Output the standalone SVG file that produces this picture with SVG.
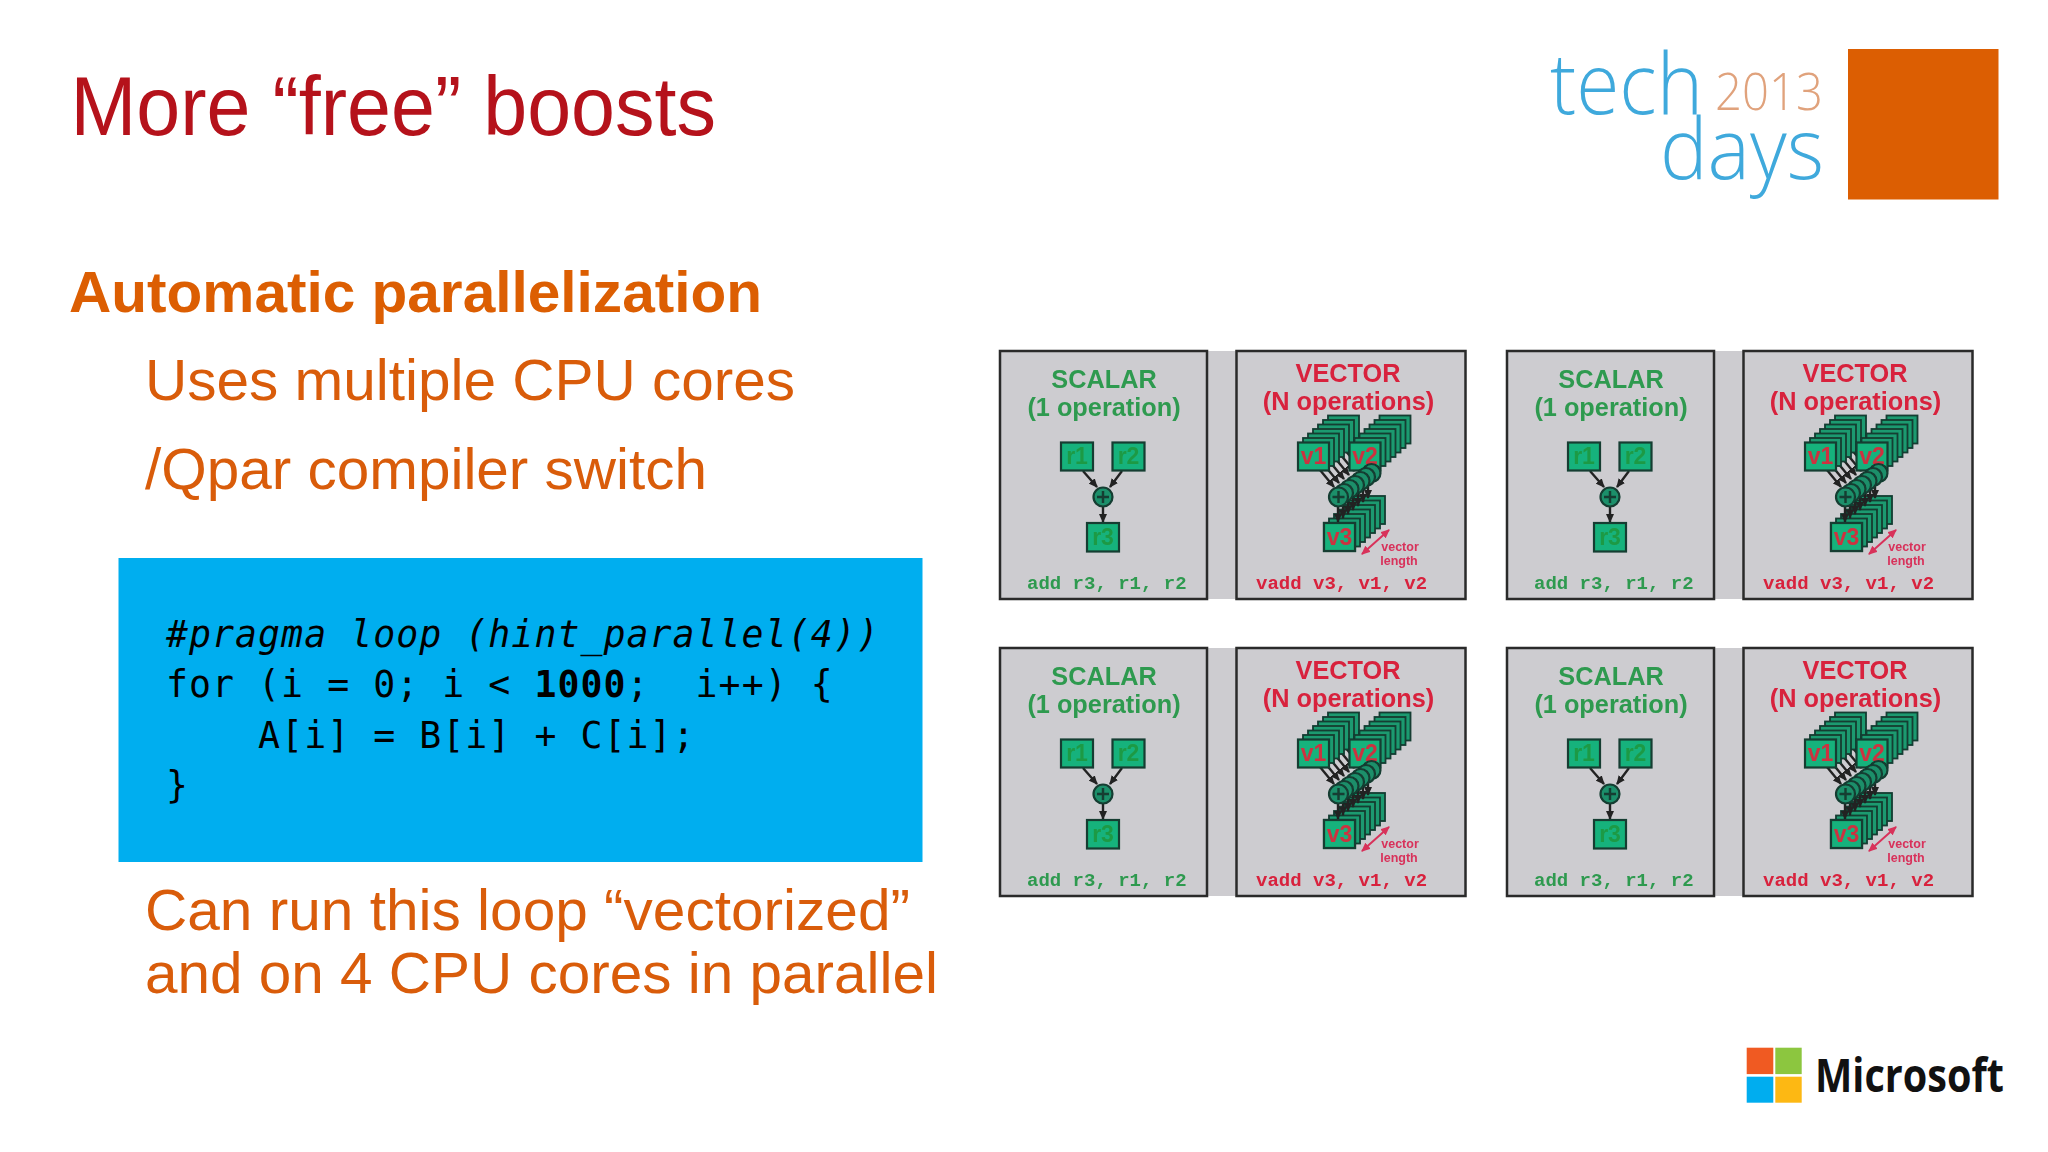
<svg xmlns="http://www.w3.org/2000/svg" xmlns:xlink="http://www.w3.org/1999/xlink" width="2048" height="1152" viewBox="0 0 2048 1152">
<style>
.title{font-family:"Liberation Sans",Arial,sans-serif;font-size:84px;fill:#b5121b}
.head{font-family:"Liberation Sans",Arial,sans-serif;font-weight:700;font-size:58px;fill:#dc5e02}
.body{font-family:"Liberation Sans",Arial,sans-serif;font-size:57.5px;fill:#d95c0a}
.code{font-family:"DejaVu Sans Mono","Liberation Mono",monospace;font-size:36.5px;letter-spacing:1.05px;fill:#000;white-space:pre}
.lt{font-family:"Open Sans","Liberation Sans",sans-serif;font-weight:300;font-size:84px;fill:#3fa9dc}
.yr{font-family:"Open Sans","Liberation Sans",sans-serif;font-weight:300;font-size:52px;fill:#e0a27c}
.ms{font-family:"Open Sans","Liberation Sans",sans-serif;font-weight:700;font-size:46px;fill:#111}
.bg{fill:#cdccd0;stroke:#2a2a2a;stroke-width:2.5}
.strip{fill:#cdccd0}
.t{font-family:"Liberation Sans",Arial,sans-serif;font-weight:700;font-size:25.3px;text-anchor:middle}
.g{fill:#2f9a4f}.r{fill:#d8203c}
.m{font-family:"Liberation Mono","Courier New",monospace;font-weight:700;font-size:19px}
.vl{font-family:"Liberation Sans",Arial,sans-serif;font-weight:700;font-size:12.5px;text-anchor:middle;fill:#d8305a}
.reg{fill:#19b27b;stroke:#123c30;stroke-width:2.2}
.back{fill:#1a9a70;stroke:#123c30;stroke-width:1.8}
.rn{font-family:"Liberation Sans",Arial,sans-serif;font-weight:700;font-size:23px;text-anchor:middle}
.rg{fill:#1f9a45}.rr{fill:#cc3340}
.op{fill:#1c8f6a;stroke:#123c30;stroke-width:2.2}
.pl{stroke:#123c30;stroke-width:2.4;fill:none}
.ar{stroke:#222;stroke-width:2.4;fill:none;marker-end:url(#ah)}
.arr{stroke:#d8305a;stroke-width:2;fill:none;marker-end:url(#ahr);marker-start:url(#ahrs)}
</style>
<defs>
<filter id="soft" x="0" y="0" width="2048" height="1152" filterUnits="userSpaceOnUse"><feGaussianBlur stdDeviation="0.55"/></filter>
<marker id="ah" markerUnits="userSpaceOnUse" markerWidth="9" markerHeight="8" refX="8" refY="4" orient="auto"><path d="M0 0L9 4L0 8z" fill="#222"/></marker>
<marker id="ahr" markerUnits="userSpaceOnUse" markerWidth="9" markerHeight="8" refX="8" refY="4" orient="auto"><path d="M0 0L9 4L0 8z" fill="#d8305a"/></marker>
<marker id="ahrs" markerUnits="userSpaceOnUse" markerWidth="9" markerHeight="8" refX="1" refY="4" orient="auto"><path d="M9 0L0 4L9 8z" fill="#d8305a"/></marker>
<rect id="card" width="31" height="28"/>
<g id="stack">
<use href="#card" class="back" x="30" y="-27"/>
<use href="#card" class="back" x="25" y="-22.5"/>
<use href="#card" class="back" x="20" y="-18"/>
<use href="#card" class="back" x="15" y="-13.5"/>
<use href="#card" class="back" x="10" y="-9"/>
<use href="#card" class="back" x="5" y="-4.5"/>
<use href="#card" class="reg"/>
</g>
<g id="opstack">
<circle class="op" cx="33" cy="-24" r="9"/><circle class="op" cx="27.5" cy="-20" r="9"/><circle class="op" cx="22" cy="-16" r="9"/><circle class="op" cx="16.5" cy="-12" r="9"/><circle class="op" cx="11" cy="-8" r="9"/><circle class="op" cx="5.5" cy="-4" r="9"/><circle class="op" r="9.5"/><path class="pl" d="M-6 0H6M0-6V6"/>
</g>
<g id="sarrows">
<path class="ar" d="M1083 471L1097 487"/><path class="ar" d="M1122 471L1110 487"/><path class="ar" d="M1103 506V522"/>
</g>
<g id="varrows">
<path class="ar" d="M1350 446L1364 463"/><path class="ar" d="M1345 450L1359 467"/><path class="ar" d="M1340 454L1354 471"/><path class="ar" d="M1335 458L1349 475"/><path class="ar" d="M1330 462L1344 479"/><path class="ar" d="M1325 466L1339 483"/><path class="ar" d="M1320 470L1334 487"/>
<path class="ar" d="M1395 446L1376 463"/><path class="ar" d="M1390 450L1371 467"/><path class="ar" d="M1385 454L1366 471"/><path class="ar" d="M1380 458L1361 475"/><path class="ar" d="M1375 462L1356 479"/><path class="ar" d="M1370 466L1351 483"/><path class="ar" d="M1365 470L1346 487"/>
<path class="ar" d="M1368 482V498"/><path class="ar" d="M1363 486V502"/><path class="ar" d="M1358 490V506"/><path class="ar" d="M1353 494V510"/><path class="ar" d="M1348 498V514"/><path class="ar" d="M1343 502V518"/><path class="ar" d="M1338 506V522"/>
<path class="arr" d="M1389 530L1362 554"/>
</g>
</defs>
<rect width="2048" height="1152" fill="#fff"/>
<g id="slide-title"><text class="title" x="70.5" y="135" textLength="645.5" lengthAdjust="spacingAndGlyphs">More “free” boosts</text></g>
<g id="bullets">
<text class="head" x="69" y="311.5" textLength="693" lengthAdjust="spacingAndGlyphs">Automatic parallelization</text>
<text class="body" x="145" y="399.5" textLength="650" lengthAdjust="spacingAndGlyphs">Uses multiple CPU cores</text>
<text class="body" x="145" y="488.5" textLength="562" lengthAdjust="spacingAndGlyphs">/Qpar compiler switch</text>
<text class="body" x="145" y="929.5" textLength="765" lengthAdjust="spacingAndGlyphs">Can run this loop “vectorized”</text>
<text class="body" x="145" y="993" textLength="793" lengthAdjust="spacingAndGlyphs">and on 4 CPU cores in parallel</text>
</g>
<g id="code-box">
<rect x="118.5" y="558" width="804" height="304" fill="#00aeef"/>
<text class="code" x="166" y="647" font-style="italic">#pragma loop (hint_parallel(4))</text>
<text class="code" x="166" y="697">for (i = 0; i &lt; <tspan font-weight="700">1000</tspan>;  i++) {</text>
<text class="code" x="166" y="748">    A[i] = B[i] + C[i];</text>
<text class="code" x="166" y="798">}</text>
</g>
<g id="techdays-logo">
<text class="lt" x="1550" y="114" textLength="153" lengthAdjust="spacingAndGlyphs">tech</text>
<text class="yr" x="1715" y="109.5" textLength="108" lengthAdjust="spacingAndGlyphs">2013</text>
<text class="lt" x="1660" y="179" textLength="164" lengthAdjust="spacingAndGlyphs">days</text>
<rect x="1848" y="49" width="150.5" height="150.5" fill="#dc5e02"/>
</g>
<g id="microsoft-logo">
<rect x="1746.7" y="1047.7" width="26.6" height="26.4" fill="#f05a22"/>
<rect x="1775.3" y="1047.7" width="26.4" height="26.4" fill="#8cc63f"/>
<rect x="1746.7" y="1076.7" width="26.6" height="26" fill="#00adef"/>
<rect x="1775.3" y="1076.7" width="26.4" height="26" fill="#fdb813"/>
<text class="ms" x="1815" y="1091.7" textLength="189" lengthAdjust="spacingAndGlyphs">Microsoft</text>
</g>
<g id="simd-panels" filter="url(#soft)">
<g id="panel-1">
<rect class="strip" x="1207" y="351" width="29" height="248"/><rect class="bg" x="1000" y="351" width="207" height="248"/><rect class="bg" x="1236.5" y="351" width="229" height="248"/>
<text class="t g" x="1104" y="388">SCALAR</text><text class="t g" x="1104" y="416">(1 operation)</text><text class="m g" x="1027" y="589">add r3, r1, r2</text>
<text class="t r" x="1348" y="382">VECTOR</text><text class="t r" x="1348.5" y="410">(N operations)</text><text class="m r" x="1256" y="589">vadd v3, v1, v2</text>
<text class="vl" x="1400" y="551">vector</text><text class="vl" x="1399" y="565">length</text>
</g>
<g id="panel-2" transform="translate(507 0)">
<rect class="strip" x="1207" y="351" width="29" height="248"/><rect class="bg" x="1000" y="351" width="207" height="248"/><rect class="bg" x="1236.5" y="351" width="229" height="248"/>
<text class="t g" x="1104" y="388">SCALAR</text><text class="t g" x="1104" y="416">(1 operation)</text><text class="m g" x="1027" y="589">add r3, r1, r2</text>
<text class="t r" x="1348" y="382">VECTOR</text><text class="t r" x="1348.5" y="410">(N operations)</text><text class="m r" x="1256" y="589">vadd v3, v1, v2</text>
<text class="vl" x="1400" y="551">vector</text><text class="vl" x="1399" y="565">length</text>
</g>
<g id="panel-3" transform="translate(0 297)">
<rect class="strip" x="1207" y="351" width="29" height="248"/><rect class="bg" x="1000" y="351" width="207" height="248"/><rect class="bg" x="1236.5" y="351" width="229" height="248"/>
<text class="t g" x="1104" y="388">SCALAR</text><text class="t g" x="1104" y="416">(1 operation)</text><text class="m g" x="1027" y="589">add r3, r1, r2</text>
<text class="t r" x="1348" y="382">VECTOR</text><text class="t r" x="1348.5" y="410">(N operations)</text><text class="m r" x="1256" y="589">vadd v3, v1, v2</text>
<text class="vl" x="1400" y="551">vector</text><text class="vl" x="1399" y="565">length</text>
</g>
<g id="panel-4" transform="translate(507 297)">
<rect class="strip" x="1207" y="351" width="29" height="248"/><rect class="bg" x="1000" y="351" width="207" height="248"/><rect class="bg" x="1236.5" y="351" width="229" height="248"/>
<text class="t g" x="1104" y="388">SCALAR</text><text class="t g" x="1104" y="416">(1 operation)</text><text class="m g" x="1027" y="589">add r3, r1, r2</text>
<text class="t r" x="1348" y="382">VECTOR</text><text class="t r" x="1348.5" y="410">(N operations)</text><text class="m r" x="1256" y="589">vadd v3, v1, v2</text>
<text class="vl" x="1400" y="551">vector</text><text class="vl" x="1399" y="565">length</text>
</g>
<g id="p1-v3-stack"><use href="#stack" x="1324" y="523"/></g>
<g id="p2-v3-stack" transform="translate(507 0)"><use href="#stack" x="1324" y="523"/></g>
<g id="p3-v3-stack" transform="translate(0 297)"><use href="#stack" x="1324" y="523"/></g>
<g id="p4-v3-stack" transform="translate(507 297)"><use href="#stack" x="1324" y="523"/></g>
<g id="connectors">
<use href="#sarrows"/><use href="#varrows"/>
<use href="#sarrows" x="507"/><use href="#varrows" x="507"/>
<use href="#sarrows" y="297"/><use href="#varrows" y="297"/>
<use href="#sarrows" x="507" y="297"/><use href="#varrows" x="507" y="297"/>
</g>
<g id="p1-nodes">
<g id="p1-r1"><rect class="reg" x="1061" y="442.5" width="32" height="28"/><text class="rn rg" x="1077" y="464">r1</text></g>
<g id="p1-r2"><rect class="reg" x="1112.5" y="442.5" width="32" height="28"/><text class="rn rg" x="1128.5" y="464">r2</text></g>
<g id="p1-add"><circle class="op" cx="1103" cy="497" r="9.5"/><path class="pl" d="M1097 497H1109M1103 491V503"/></g>
<g id="p1-r3"><rect class="reg" x="1087" y="523" width="32" height="28.5"/><text class="rn rg" x="1103" y="545">r3</text></g>
<g id="p1-v1"><use href="#stack" x="1298" y="442.5"/><text class="rn rr" x="1313.5" y="464">v1</text></g>
<g id="p1-v2"><use href="#stack" x="1349.5" y="442.5"/><text class="rn rr" x="1365" y="464">v2</text></g>
<g id="p1-vadd"><use href="#opstack" x="1338.5" y="497"/></g>
<g id="p1-v3"><rect class="reg" x="1324" y="523" width="31" height="28"/><text class="rn rr" x="1339.5" y="545">v3</text></g>
</g>
<g id="p2-nodes" transform="translate(507 0)">
<g id="p2-r1"><rect class="reg" x="1061" y="442.5" width="32" height="28"/><text class="rn rg" x="1077" y="464">r1</text></g>
<g id="p2-r2"><rect class="reg" x="1112.5" y="442.5" width="32" height="28"/><text class="rn rg" x="1128.5" y="464">r2</text></g>
<g id="p2-add"><circle class="op" cx="1103" cy="497" r="9.5"/><path class="pl" d="M1097 497H1109M1103 491V503"/></g>
<g id="p2-r3"><rect class="reg" x="1087" y="523" width="32" height="28.5"/><text class="rn rg" x="1103" y="545">r3</text></g>
<g id="p2-v1"><use href="#stack" x="1298" y="442.5"/><text class="rn rr" x="1313.5" y="464">v1</text></g>
<g id="p2-v2"><use href="#stack" x="1349.5" y="442.5"/><text class="rn rr" x="1365" y="464">v2</text></g>
<g id="p2-vadd"><use href="#opstack" x="1338.5" y="497"/></g>
<g id="p2-v3"><rect class="reg" x="1324" y="523" width="31" height="28"/><text class="rn rr" x="1339.5" y="545">v3</text></g>
</g>
<g id="p3-nodes" transform="translate(0 297)">
<g id="p3-r1"><rect class="reg" x="1061" y="442.5" width="32" height="28"/><text class="rn rg" x="1077" y="464">r1</text></g>
<g id="p3-r2"><rect class="reg" x="1112.5" y="442.5" width="32" height="28"/><text class="rn rg" x="1128.5" y="464">r2</text></g>
<g id="p3-add"><circle class="op" cx="1103" cy="497" r="9.5"/><path class="pl" d="M1097 497H1109M1103 491V503"/></g>
<g id="p3-r3"><rect class="reg" x="1087" y="523" width="32" height="28.5"/><text class="rn rg" x="1103" y="545">r3</text></g>
<g id="p3-v1"><use href="#stack" x="1298" y="442.5"/><text class="rn rr" x="1313.5" y="464">v1</text></g>
<g id="p3-v2"><use href="#stack" x="1349.5" y="442.5"/><text class="rn rr" x="1365" y="464">v2</text></g>
<g id="p3-vadd"><use href="#opstack" x="1338.5" y="497"/></g>
<g id="p3-v3"><rect class="reg" x="1324" y="523" width="31" height="28"/><text class="rn rr" x="1339.5" y="545">v3</text></g>
</g>
<g id="p4-nodes" transform="translate(507 297)">
<g id="p4-r1"><rect class="reg" x="1061" y="442.5" width="32" height="28"/><text class="rn rg" x="1077" y="464">r1</text></g>
<g id="p4-r2"><rect class="reg" x="1112.5" y="442.5" width="32" height="28"/><text class="rn rg" x="1128.5" y="464">r2</text></g>
<g id="p4-add"><circle class="op" cx="1103" cy="497" r="9.5"/><path class="pl" d="M1097 497H1109M1103 491V503"/></g>
<g id="p4-r3"><rect class="reg" x="1087" y="523" width="32" height="28.5"/><text class="rn rg" x="1103" y="545">r3</text></g>
<g id="p4-v1"><use href="#stack" x="1298" y="442.5"/><text class="rn rr" x="1313.5" y="464">v1</text></g>
<g id="p4-v2"><use href="#stack" x="1349.5" y="442.5"/><text class="rn rr" x="1365" y="464">v2</text></g>
<g id="p4-vadd"><use href="#opstack" x="1338.5" y="497"/></g>
<g id="p4-v3"><rect class="reg" x="1324" y="523" width="31" height="28"/><text class="rn rr" x="1339.5" y="545">v3</text></g>
</g>
</g>
</svg>
